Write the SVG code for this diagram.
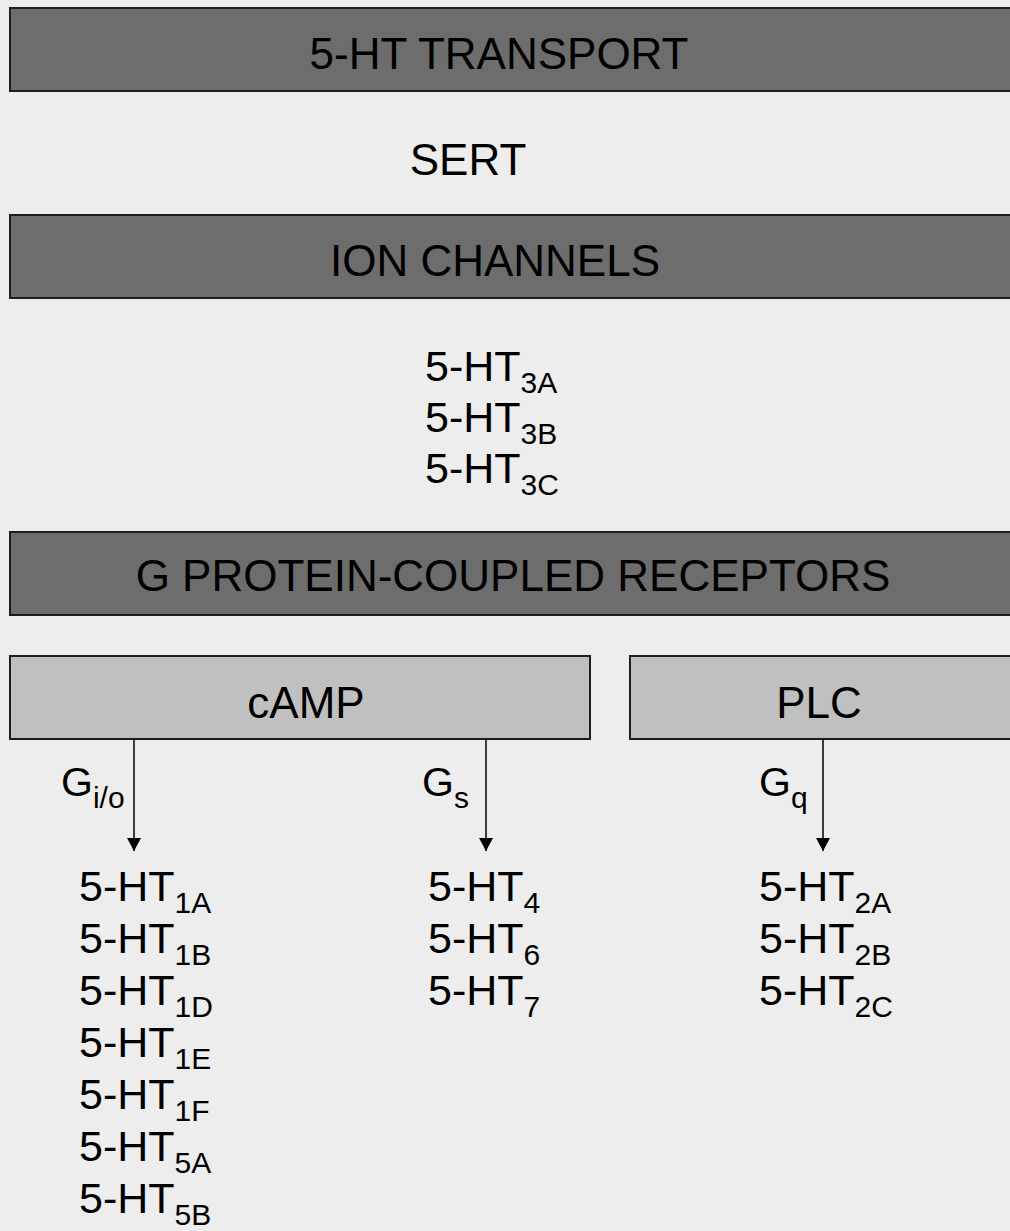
<svg xmlns="http://www.w3.org/2000/svg" width="1010" height="1231" viewBox="0 0 1010 1231">
<style>
.bg{fill:#ededed}
.dark{fill:#6d6d6d;stroke:#1e1e1e;stroke-width:2}
.light{fill:#c0c0c0;stroke:#1e1e1e;stroke-width:2}
text{font-family:"Liberation Sans",Arial,sans-serif;fill:#000}
.h{font-size:44px;text-anchor:middle}
.m{font-size:43px}
.s{font-size:30px}
.g{font-size:41px}
.conn line{stroke:#000;stroke-width:1.5}
</style>
<defs>
<marker id="ah" markerWidth="14" markerHeight="14" refX="13" refY="7" orient="auto" markerUnits="userSpaceOnUse">
<path d="M0,0 L13,7 L0,14 Z" fill="#000"/>
</marker>
</defs>
<rect class="bg" x="0" y="0" width="1010" height="1231"/>

<g id="transport">
<rect class="dark" x="10" y="8" width="1010" height="83"/>
<text class="h" x="499" y="69">5-HT TRANSPORT</text>
</g>
<g id="sert">
<text class="h" x="468" y="175">SERT</text>
</g>
<g id="ion-channels">
<rect class="dark" x="10" y="215" width="1010" height="83"/>
<text class="h" x="495" y="276">ION CHANNELS</text>
</g>
<g id="ion-list">
<text class="m" x="425" y="381">5-HT<tspan class="s" dy="12">3A</tspan></text>
<text class="m" x="425" y="432">5-HT<tspan class="s" dy="12">3B</tspan></text>
<text class="m" x="425" y="483">5-HT<tspan class="s" dy="12">3C</tspan></text>
</g>
<g id="gpcr">
<rect class="dark" x="10" y="532" width="1010" height="83"/>
<text class="h" x="513" y="591">G PROTEIN-COUPLED RECEPTORS</text>
</g>
<g id="camp">
<rect class="light" x="10" y="656" width="580" height="83"/>
<text class="h" x="306" y="718">cAMP</text>
</g>
<g id="plc">
<rect class="light" x="630" y="656" width="390" height="83"/>
<text class="h" x="819" y="718">PLC</text>
</g>

<g class="conn" id="connectors">
<line x1="134" y1="739" x2="134" y2="851" marker-end="url(#ah)"/>
<line x1="486" y1="739" x2="486" y2="851" marker-end="url(#ah)"/>
<line x1="823" y1="739" x2="823" y2="851" marker-end="url(#ah)"/>
<text class="g" x="61" y="796">G<tspan class="s" dy="12">i/o</tspan></text>
<text class="g" x="422" y="796">G<tspan class="s" dy="12">s</tspan></text>
<text class="g" x="759" y="796">G<tspan class="s" dy="12">q</tspan></text>
</g>

<g id="gio-list">
<text class="m" x="79" y="901">5-HT<tspan class="s" dy="12">1A</tspan></text>
<text class="m" x="79" y="953">5-HT<tspan class="s" dy="12">1B</tspan></text>
<text class="m" x="79" y="1005">5-HT<tspan class="s" dy="12">1D</tspan></text>
<text class="m" x="79" y="1057">5-HT<tspan class="s" dy="12">1E</tspan></text>
<text class="m" x="79" y="1109">5-HT<tspan class="s" dy="12">1F</tspan></text>
<text class="m" x="79" y="1161">5-HT<tspan class="s" dy="12">5A</tspan></text>
<text class="m" x="79" y="1213">5-HT<tspan class="s" dy="12">5B</tspan></text>
</g>
<g id="gs-list">
<text class="m" x="428" y="901">5-HT<tspan class="s" dy="12">4</tspan></text>
<text class="m" x="428" y="953">5-HT<tspan class="s" dy="12">6</tspan></text>
<text class="m" x="428" y="1005">5-HT<tspan class="s" dy="12">7</tspan></text>
</g>
<g id="gq-list">
<text class="m" x="759" y="901">5-HT<tspan class="s" dy="12">2A</tspan></text>
<text class="m" x="759" y="953">5-HT<tspan class="s" dy="12">2B</tspan></text>
<text class="m" x="759" y="1005">5-HT<tspan class="s" dy="12">2C</tspan></text>
</g>
</svg>
